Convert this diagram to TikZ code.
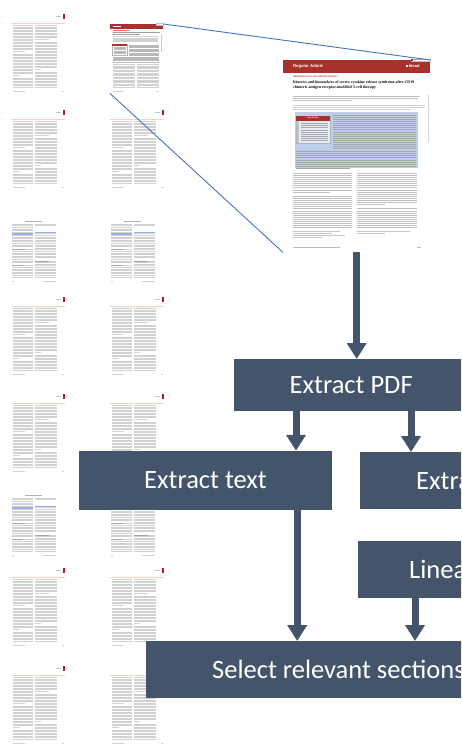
\documentclass[tikz,border=0pt]{standalone}
\usepackage{fontspec}
\setmainfont{Carlito}
\newfontfamily\pgserif{Liberation Serif}
\newfontfamily\pgsans{Liberation Sans}
\usepackage{tikz}
\usetikzlibrary{arrows.meta, calc, positioning}
\definecolor{boxgray}{HTML}{44546A}
\definecolor{zoomblue}{HTML}{4472C4}
\definecolor{pagered}{HTML}{A8322B}
\definecolor{markred}{HTML}{B0192E}
\definecolor{absblue}{HTML}{BDCFEA}

\begin{document}
\begin{tikzpicture}[
        x=1pt, y=-1pt,
        flowbox/.style={fill=boxgray, text=white, inner sep=0pt,
          font=\fontsize{26.5}{30}\selectfont},
        flow/.style={draw=boxgray, line width=7pt,
          -{Triangle[width=19pt,length=16pt]}},
        zoomline/.style={draw=zoomblue, line width=0.9pt},
        textline/.style={gray!36, line width=0.55pt},
        bigline/.style={gray!50, line width=0.45pt},
        absline/.style={black!35, line width=0.45pt},
      ]
      \useasboundingbox (0,0) rectangle (461,745);
      \clip (0,0) rectangle (461,745);

      % Seitenvorschau, normale Seiten
      \foreach \px/\py in {11/14, 11/110, 110/110, 11/297, 110/297, 11/394,
                           110/394, 11/568, 110/568, 11/666, 110/666} {
        \begin{scope}[shift={(\px,\py)}]
          \fill[markred] (52,0) rectangle (54,4.5);
          \fill[gray!45] (45,2) rectangle (50,3);
          \draw[red!20, line width=0.6pt] (0,9) -- (54,9);
          \foreach \k in {0,...,41} {
            \draw[textline] (2,11.5+1.5*\k) -- (22,11.5+1.5*\k);
            \draw[textline] (24,11.5+1.5*\k) -- (46,11.5+1.5*\k);
          }
          \fill[white] (2,37.7) rectangle (22.5,39.3);
          \fill[white] (14,36.2) rectangle (22.5,37.7);
          \fill[white] (2,61.7) rectangle (22.5,63.3);
          \fill[white] (9,60.2) rectangle (22.5,61.7);
          \fill[white] (24,25.7) rectangle (46.5,27.3);
          \fill[white] (38,24.2) rectangle (46.5,25.7);
          \fill[white] (24,55.7) rectangle (46.5,57.3);
          \fill[white] (30,54.2) rectangle (46.5,55.7);
          \draw[textline] (2,77) -- (14,77);
          \draw[textline] (51,77) -- (53,77);
        \end{scope}
      }

      % Seitenvorschau, Anhangseiten
      \foreach \px/\py in {11/221, 110/221, 11/495, 110/495} {
        \begin{scope}[shift={(\px,\py)}]
          \draw[gray!60, line width=0.5pt] (14,0) -- (31,0);
          \foreach \k in {0,...,33} {
            \draw[textline] (1,3+1.6*\k) -- (22,3+1.6*\k);
            \draw[textline] (24,3+1.6*\k) -- (45,3+1.6*\k);
          }
          \fill[white] (1,9.6) rectangle (22.5,11.4);
          \fill[zoomblue!55] (1,12.2) rectangle (22,13.8);
          \fill[white] (24,6.4) rectangle (45.5,9.8);
          \fill[zoomblue!55] (24,10.6) rectangle (45,12.2);
          \fill[white] (1,26) rectangle (22.5,27.8);
          \draw[gray!70, line width=0.5pt] (1,28.6) -- (14,28.6);
          \fill[white] (1,42) rectangle (22.5,43.8);
          \draw[gray!70, line width=0.5pt] (1,44.6) -- (12,44.6);
          \fill[white] (24,37.2) rectangle (45.5,39);
          \draw[gray!70, line width=0.5pt] (24,39.8) -- (38,39.8);
          \draw[textline] (1,60) -- (3,60);
          \draw[textline] (32,60) -- (45,60);
        \end{scope}
      }

      % erste Seite, klein
      \node[anchor=north west, minimum width=53pt, minimum height=69pt,
            inner sep=0pt] (firstpg) at (110,24) {};
      \fill[pagered] (110,24) rectangle (163,28.5);
      \draw[white, line width=0.5pt] (113,26.3) -- (121,26.3);
      \fill[white, draw=gray!50, line width=0.2pt] (156,22.8) rectangle (163,25);
      \draw[red!55, line width=0.4pt] (113,30.5) -- (130,30.5);
      \draw[gray!75, line width=0.7pt] (113,32.5) -- (160,32.5);
      \draw[gray!75, line width=0.7pt] (113,34.3) -- (140,34.3);
      \foreach \k in {0,...,4}
        \draw[textline] (113,36.6+1.2*\k) -- (158,36.6+1.2*\k);
      \draw[gray!60, line width=0.2pt] (112,44) rectangle (127,55);
      \fill[pagered] (112,44) rectangle (127,45.5);
      \foreach \k in {0,...,5}
        \draw[gray!55, line width=0.4pt] (114,47+1.3*\k) -- (126,47+1.3*\k);
      \foreach \k in {0,...,9}
        \draw[gray!55, line width=0.4pt] (129,45+1.3*\k) -- (159,45+1.3*\k);
      \foreach \k in {0,...,4}
        \draw[gray!55, line width=0.4pt] (113,57+1.2*\k) -- (159,57+1.2*\k);
      \draw[gray!40, line width=0.5pt] (161,34) -- (161,52);
      \foreach \k in {0,...,16} {
        \draw[textline] (113,64.5+1.4*\k) -- (135,64.5+1.4*\k);
        \draw[textline] (137,64.5+1.4*\k) -- (159,64.5+1.4*\k);
      }
      \draw[textline] (113,91) -- (124,91);
      \draw[textline] (157,91) -- (159,91);

      % erste Seite, gross
      \node[anchor=north west, minimum width=147pt, minimum height=192pt,
            inner sep=0pt] (bigpg) at (283,60) {};
      \fill[pagered] (283,60) rectangle (430,73);
      \node[anchor=west, text=white, inner sep=0pt,
            font=\pgsans\bfseries\fontsize{4.2}{5}\selectfont]
        (rtype) at (293,66.5) {Regular Article};
      \fill[white] (406,65.3) rectangle (408,67.3);
      \node[anchor=west, text=white, inner sep=0pt,
            font=\pgsans\bfseries\fontsize{4}{5}\selectfont]
        (jname) at (408.6,66.5) {blood};
      \node[anchor=north east, fill=white, draw=gray!50, line width=0.2pt,
            inner sep=0.5pt, font=\pgsans\fontsize{2}{2.4}\selectfont,
            text=gray] (upd) at (430,58.5)
        {\textcolor{markred}{\rule{1.4pt}{1.4pt}} Check for updates};
      \node[anchor=west, text=pagered, inner sep=0pt,
            font=\pgsans\bfseries\fontsize{2.2}{2.6}\selectfont]
        (section) at (293,77) {IMMUNOBIOLOGY AND IMMUNOTHERAPY};
      \node[anchor=north west, inner sep=0pt, align=left,
            font=\pgserif\bfseries\fontsize{3.9}{4.8}\selectfont]
        (ptitle) at (293,81) {Kinetics and biomarkers of severe cytokine release syndrome after CD19\\
                             chimeric antigen receptor-modified T-cell therapy};
      \foreach \k/\e in {0/420, 1/418, 2/352}
        \draw[bigline] (293,96+2.2*\k) -- (\e,96+2.2*\k);
      \foreach \k/\e in {0/425, 1/425, 2/410}
        \draw[gray!38, line width=0.4pt] (293,105.5+1.8*\k) -- (\e,105.5+1.8*\k);
      \draw[gray!35, line width=0.6pt] (428,95) -- (428,142);

      % Abstract mit Key Points
      \fill[absblue] (295,112) rectangle (418,168);
      \fill[absblue!40] (296,116) rectangle (330,143);
      \draw[gray!60, line width=0.3pt] (296,116) rectangle (330,143);
      \fill[pagered] (296,116) rectangle (330,120.5);
      \node[text=white, inner sep=0pt, font=\pgsans\bfseries\fontsize{2.2}{2.6}\selectfont]
        (kp) at (313,118.3) {Key Points};
      \fill[gray!45] (296.5,121) rectangle (298.5,142.5);
      \foreach \k in {0,...,8}
        \draw[absline] (301,123.5+2.1*\k) -- (328,123.5+2.1*\k);
      \foreach \k in {0,...,16}
        \draw[absline] (333,115+2.1*\k) -- (416,115+2.1*\k);
      \foreach \k in {0,...,7}
        \draw[absline] (296,151+2.2*\k) -- (416,151+2.2*\k);
      \draw[absline] (296,168.6) -- (350,168.6);

      % Fliesstext
      \foreach \k in {0,...,26} {
        \draw[bigline] (293,173+2.1*\k) -- (352,173+2.1*\k);
        \draw[bigline] (357,173+2.1*\k) -- (417,173+2.1*\k);
      }
      \fill[white] (293,193.5) rectangle (353,195.6);
      \fill[white] (330,191.4) rectangle (353,193.5);
      \fill[white] (357,205) rectangle (418,207.2);
      \fill[white] (385,202.9) rectangle (418,205);
      \foreach \k/\e in {0/340, 1/332, 2/345, 3/322}
        \draw[gray!45, line width=0.4pt] (293,231+1.9*\k) -- (\e,231+1.9*\k);
      \foreach \k/\e in {0/410, 1/385}
        \draw[gray!45, line width=0.4pt] (357,231+1.9*\k) -- (\e,231+1.9*\k);
      \draw[gray!55, line width=0.4pt] (293,247) -- (340,247);
      \draw[gray!55, line width=0.4pt] (417,247) -- (421,247);

      % Zoom-Linien
      \draw[zoomline] (firstpg.north east) -- (bigpg.north east);
      \draw[zoomline] (firstpg.south west) -- (bigpg.south west);

      % Ablauf
      \node[flowbox, anchor=north west, minimum width=234pt, minimum height=52pt]
        (pdf) at (234,359) {Extract PDF};
      \node[flowbox, minimum width=253pt, minimum height=59pt]
        (txt) at (205.5,480.5) {Extract text};
      \node[flowbox, anchor=north west, text width=200pt, align=flush left,
            inner xsep=56pt, minimum height=57pt]
        (tab) at (360,452) {Extract tables};
      \node[flowbox, anchor=north west, text width=200pt, align=flush left,
            inner xsep=51pt, minimum height=57pt]
        (lin) at (358,541) {Linearize tables};
      \node[flowbox, anchor=north west, text width=320pt, align=flush left,
            inner xsep=66pt, minimum height=57pt]
        (sel) at (146,641) {Select relevant sections};

      \draw[flow] (bigpg.south) -- (bigpg.south |- pdf.north);
      \draw[flow] ([xshift=62pt]pdf.south west) -- ([xshift=62pt]pdf.south west |- txt.north);
      \draw[flow] ([xshift=177pt]pdf.south west) -- ([xshift=177pt]pdf.south west |- tab.north);
      \draw[flow] ([xshift=-35pt]txt.south east) -- ([xshift=-35pt]txt.south east |- sel.north);
      \draw[flow] ([xshift=57pt]lin.south west) -- ([xshift=57pt]lin.south west |- sel.north);
    \end{tikzpicture}
\end{document}
